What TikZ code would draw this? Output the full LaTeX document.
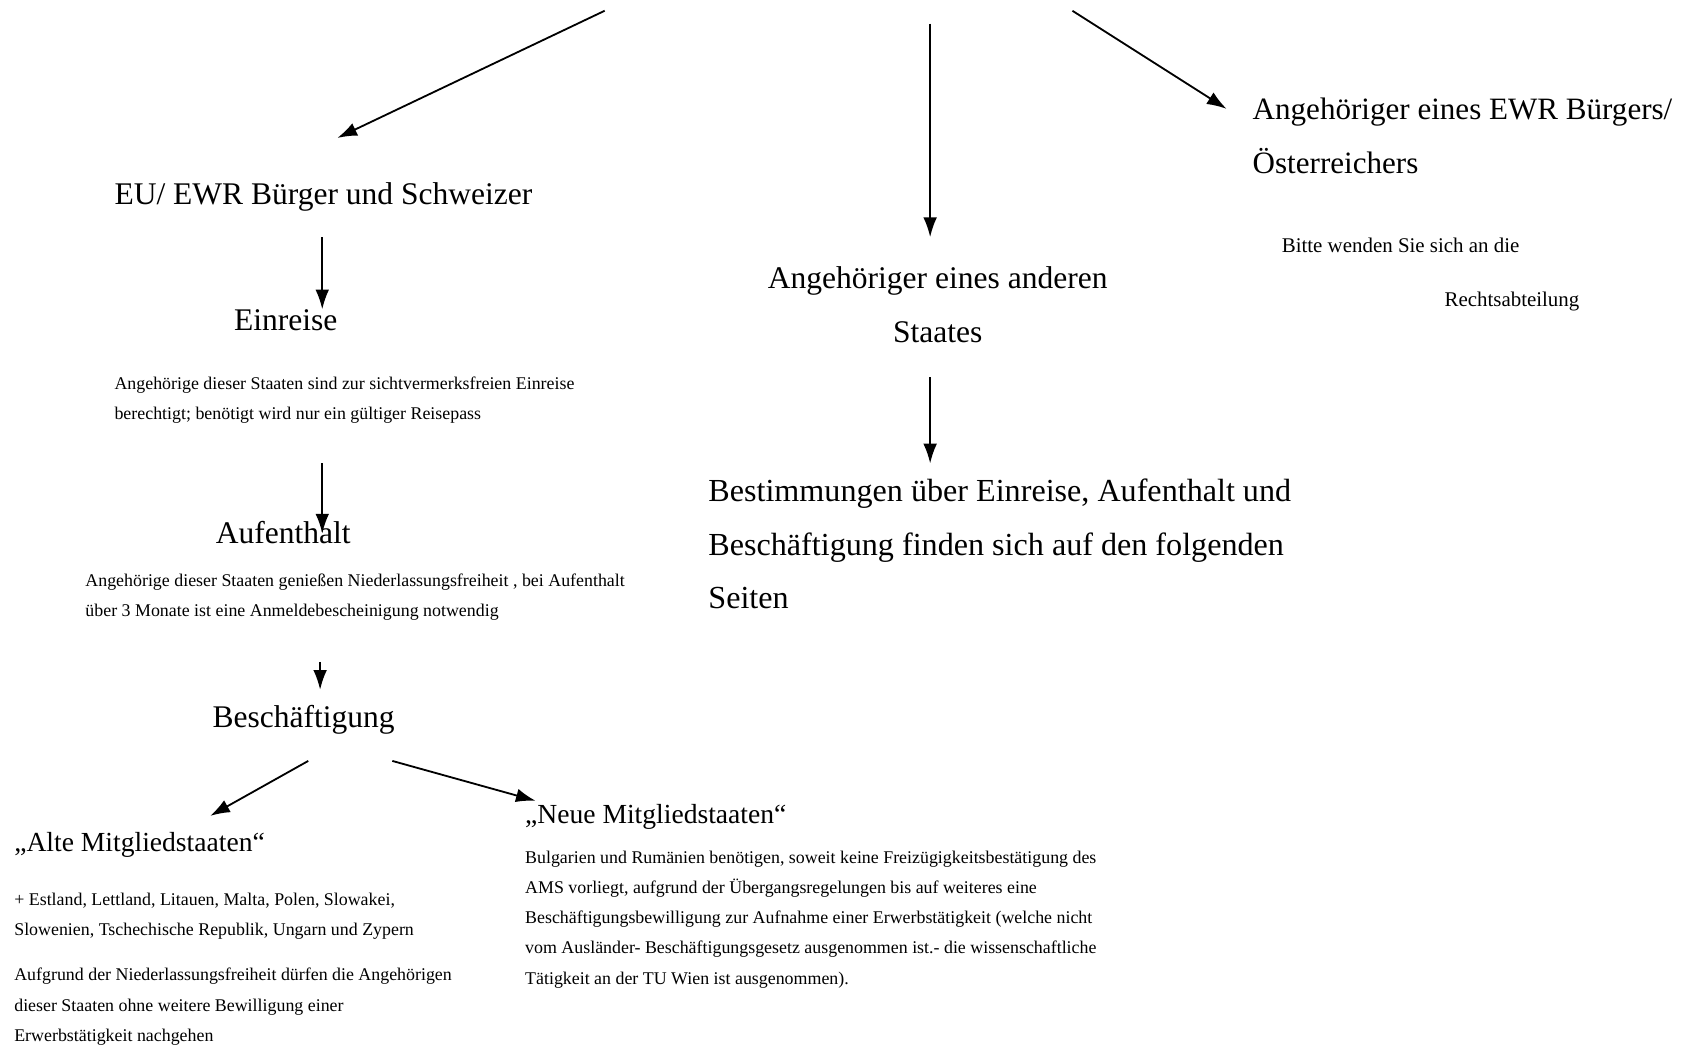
\documentclass[tikz,border=0pt]{standalone}
\usepackage{fontspec}
\setmainfont{Liberation Serif}
\usetikzlibrary{arrows.meta}
\begin{document}
\begin{tikzpicture}[x=0.025cm, y=-0.025cm, >={Latex[length=13pt,width=9pt]},
    gross/.style={inner sep=0pt, anchor=base west, align=left, font=\fontsize{20.8}{35.6}\selectfont},
    mittel/.style={inner sep=0pt, anchor=base west, align=left, font=\fontsize{18.2}{25}\selectfont},
    klein/.style={inner sep=0pt, anchor=base west, align=left, font=\fontsize{11.8}{19.9}\selectfont},
    hinweis/.style={inner sep=0pt, anchor=base west, font=\fontsize{13.8}{19.9}\selectfont},
    pfeil/.style={->, line width=1.2pt}]
    \useasboundingbox (0,0) rectangle (1568,970);

    % 1. Drei Gruppen (bei mehrzeiligen Knoten: Grundlinie der letzten Zeile)
    \node[gross] (eu) at (106,190) {EU/ EWR Bürger und Schweizer};
    \node[gross, anchor=base, align=center] (anderer) at (870,318) {Angehöriger eines anderen\\Staates};
    \node[gross, font=\fontsize{20.5}{35.6}\selectfont] (ewr) at (1162,161) {Angehöriger eines EWR Bürgers/\\Österreichers};
    \node[hinweis] (bitte) at (1189,234) {Bitte wenden Sie sich an die};
    \node[hinweis] (recht) at (1340,284) {Rechtsabteilung};
    \node[gross, font=\fontsize{21.2}{35.6}\selectfont] (bestimmung) at (657,565) {Bestimmungen über Einreise, Aufenthalt und\\Beschäftigung finden sich auf den folgenden\\Seiten};

    % 2. EU/ EWR Bürger
    \node[gross] (einreise) at (217,307) {Einreise};
    \node[klein] (einreisetext) at (106,389) {Angehörige dieser Staaten sind zur sichtvermerksfreien Einreise\\berechtigt; benötigt wird nur ein gültiger Reisepass};
    \node[gross] (aufenthalt) at (200,504) {Aufenthalt};
    \node[klein] (aufenthalttext) at (79,572) {Angehörige dieser Staaten genießen Niederlassungsfreiheit , bei Aufenthalt\\über 3 Monate ist eine Anmeldebescheinigung notwendig};
    \node[gross] (besch) at (197,675) {Beschäftigung};

    % 3. Mitgliedstaaten
    \node[mittel] (alte) at (13,790) {„Alte Mitgliedstaaten“};
    \node[klein] (altetext) at (13,868) {+ Estland, Lettland, Litauen, Malta, Polen, Slowakei,\\Slowenien, Tschechische Republik, Ungarn und Zypern};
    \node[klein] (altefrei) at (13,966) {Aufgrund der Niederlassungsfreiheit dürfen die Angehörigen\\dieser Staaten ohne weitere Bewilligung einer\\Erwerbstätigkeit nachgehen};
    \node[mittel] (neue) at (487,764) {„Neue Mitgliedstaaten“};
    \node[klein] (neuetext) at (487,913) {Bulgarien und Rumänien benötigen, soweit keine Freizügigkeitsbestätigung des\\AMS vorliegt, aufgrund der Übergangsregelungen bis auf weiteres eine\\Beschäftigungsbewilligung zur Aufnahme einer Erwerbstätigkeit (welche nicht\\vom Ausländer- Beschäftigungsgesetz ausgenommen ist.- die wissenschaftliche\\Tätigkeit an der TU Wien ist ausgenommen).};

    % 4. Pfeile
    \coordinate (start1) at (561,10);   \coordinate (ziel1) at (313,128);
    \coordinate (start2) at (863,22);   \coordinate (ziel2) at (863,220);
    \coordinate (start3) at (995,10);   \coordinate (ziel3) at (1138,101);
    \coordinate (euaus) at (299,220);   \coordinate (einrein) at (299,287);
    \coordinate (einraus) at (299,430); \coordinate (aufein) at (299,495);
    \coordinate (aufaus) at (297,614);  \coordinate (beschein) at (297,640);
    \coordinate (beschl) at (286,706);  \coordinate (alteein) at (195,757);
    \coordinate (beschr) at (364,706);  \coordinate (neueein) at (497,743);
    \coordinate (andaus) at (863,350);  \coordinate (bestein) at (863,430);
    \draw[pfeil] (start1) -- (ziel1);
    \draw[pfeil] (start2) -- (ziel2);
    \draw[pfeil] (start3) -- (ziel3);
    \draw[pfeil] (euaus) -- (einrein);
    \draw[pfeil] (einraus) -- (aufein);
    \draw[pfeil] (aufaus) -- (beschein);
    \draw[pfeil] (beschl) -- (alteein);
    \draw[pfeil] (beschr) -- (neueein);
    \draw[pfeil] (andaus) -- (bestein);
\end{tikzpicture}
\end{document}
